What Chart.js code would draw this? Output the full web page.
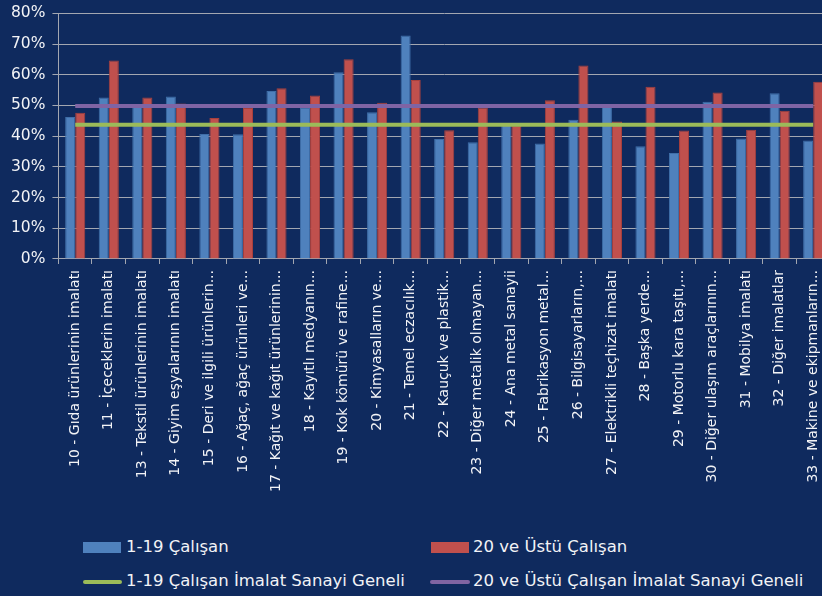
<!DOCTYPE html>
<html>
<head>
<meta charset="utf-8">
<script src="https://cdn.jsdelivr.net/npm/chart.js@4"></script>
<style>
  html, body { margin: 0; padding: 0; background: #0f2a5e; overflow: hidden; }
  body { width: 822px; height: 596px; position: relative; font-family: "DejaVu Sans", sans-serif; }
  #wrap { position: absolute; left: 0; top: -3px; width: 836px; height: 501px; }
  .leg { position: absolute; color: #f2f3f6; font-size: 16.5px; line-height: 20px; white-space: nowrap; }
  .sw { position: absolute; }
</style>
</head>
<body>
<div id="wrap"><canvas id="chart" width="836" height="501"></canvas></div>

<!-- legend, two rows by two columns -->
<div class="sw" style="left:83px; top:542px; width:38px; height:11px; background:#4f81bd;"></div>
<div class="leg" style="left:126px; top:537px;">1-19 Çalışan</div>
<div class="sw" style="left:431px; top:542px; width:38px; height:11px; background:#c0504d;"></div>
<div class="leg" style="left:473px; top:537px;">20 ve Üstü Çalışan</div>
<div class="sw" style="left:83px; top:580px; width:39px; height:4px; background:#9bbb59; border-radius:2px;"></div>
<div class="leg" style="left:126px; top:571px;">1-19 Çalışan İmalat Sanayi Geneli</div>
<div class="sw" style="left:430px; top:580px; width:40px; height:4px; background:#8064a2; border-radius:2px;"></div>
<div class="leg" style="left:473px; top:571px;">20 ve Üstü Çalışan İmalat Sanayi Geneli</div>

<script>
'use strict';

// sectors (NACE codes), labels as shown on the axis
const sectors = [
  '10 - Gıda ürünlerinin imalatı',
  '11 - İçeceklerin imalatı',
  '13 - Tekstil ürünlerinin imalatı',
  '14 - Giyim eşyalarının imalatı',
  '15 - Deri ve ilgili ürünlerin...',
  '16 - Ağaç, ağaç ürünleri ve...',
  '17 - Kağıt ve kağıt ürünlerinin...',
  '18 - Kayıtlı medyanın...',
  '19 - Kok kömürü ve rafine...',
  '20 - Kimyasalların ve...',
  '21 - Temel eczacılık...',
  '22 - Kauçuk ve plastik...',
  '23 - Diğer metalik olmayan...',
  '24 - Ana metal sanayii',
  '25 - Fabrikasyon metal...',
  '26 - Bilgisayarların,...',
  '27 - Elektrikli teçhizat imalatı',
  '28 - Başka yerde...',
  '29 - Motorlu kara taşıtı,...',
  '30 - Diğer ulaşım araçlarının...',
  '31 - Mobilya imalatı',
  '32 - Diğer imalatlar',
  '33 - Makine ve ekipmanların...'
];

// percentages
const small = [46.2, 52.6, 49.5, 52.9, 40.7, 40.6, 54.7, 49.4, 60.8, 47.8, 72.8,
               39.1, 38.0, 44.0, 37.6, 45.3, 50.5, 36.7, 34.5, 51.2, 39.2, 54.0, 38.6];
const large = [47.6, 64.6, 52.6, 50.6, 45.9, 49.2, 55.6, 53.2, 65.0, 50.9, 58.3,
               41.9, 49.3, 43.3, 51.7, 63.0, 44.8, 56.1, 41.8, 54.2, 42.1, 48.3, 57.7];

// manufacturing-wide averages (flat lines)
const smallGenel = [43.7, 43.7, 43.7, 43.7, 43.7, 43.7, 43.7, 43.7, 43.7, 43.7, 43.7, 43.7,
                    43.7, 43.7, 43.7, 43.7, 43.7, 43.7, 43.7, 43.7, 43.7, 43.7, 43.7];
const largeGenel = [49.8, 49.8, 49.8, 49.8, 49.8, 49.8, 49.8, 49.8, 49.8, 49.8, 49.8, 49.8,
                    49.8, 49.8, 49.8, 49.8, 49.8, 49.8, 49.8, 49.8, 49.8, 49.8, 49.8];

const yTicks = [0, 10, 20, 30, 40, 50, 60, 70, 80];

const gridGrey = '#a3a7b1';

new Chart(document.getElementById('chart'), {
  type: 'bar',
  data: {
    labels: sectors,
    datasets: [
      { label: '1-19 Çalışan', data: small, backgroundColor: '#4f81bd',
        borderColor: '#3f6ea8', borderWidth: 1, order: 2 },
      { label: '20 ve Üstü Çalışan', data: large, backgroundColor: '#c0504d',
        borderColor: '#a8403d', borderWidth: 1, order: 2 },
      { type: 'line', label: '1-19 Çalışan İmalat Sanayi Geneli', data: smallGenel,
        borderColor: '#9bbb59', borderWidth: 4, pointRadius: 0, order: 1 },
      { type: 'line', label: '20 ve Üstü Çalışan İmalat Sanayi Geneli', data: largeGenel,
        borderColor: '#7f64a4', borderWidth: 4, pointRadius: 0, order: 1 }
    ]
  },
  options: {
    responsive: false,
    animation: false,
    layout: { padding: { left: 4, top: 0, right: 0, bottom: 0 } },
    datasets: { bar: { categoryPercentage: 0.6, barPercentage: 1.0 } },
    plugins: { legend: { display: false }, tooltip: { enabled: false } },
    scales: {
      x: {
        grid: { drawOnChartArea: false, offset: true, color: gridGrey, tickLength: 5 },
        border: { color: gridGrey },
        ticks: {
          autoSkip: false, minRotation: 90, maxRotation: 90, padding: 6,
          color: '#f2f3f6', font: { family: 'DejaVu Sans', size: 14 }
        }
      },
      y: {
        min: 0, max: 80,
        afterBuildTicks: (scale) => { scale.ticks = yTicks.map(v => ({ value: v })); },
        grid: { color: gridGrey, tickLength: 6 },
        border: { color: gridGrey },
        ticks: {
          padding: 7, color: '#f2f3f6', font: { family: 'DejaVu Sans', size: 15.5 },
          callback: (v) => v + '%'
        }
      }
    }
  }
});
</script>
</body>
</html>
